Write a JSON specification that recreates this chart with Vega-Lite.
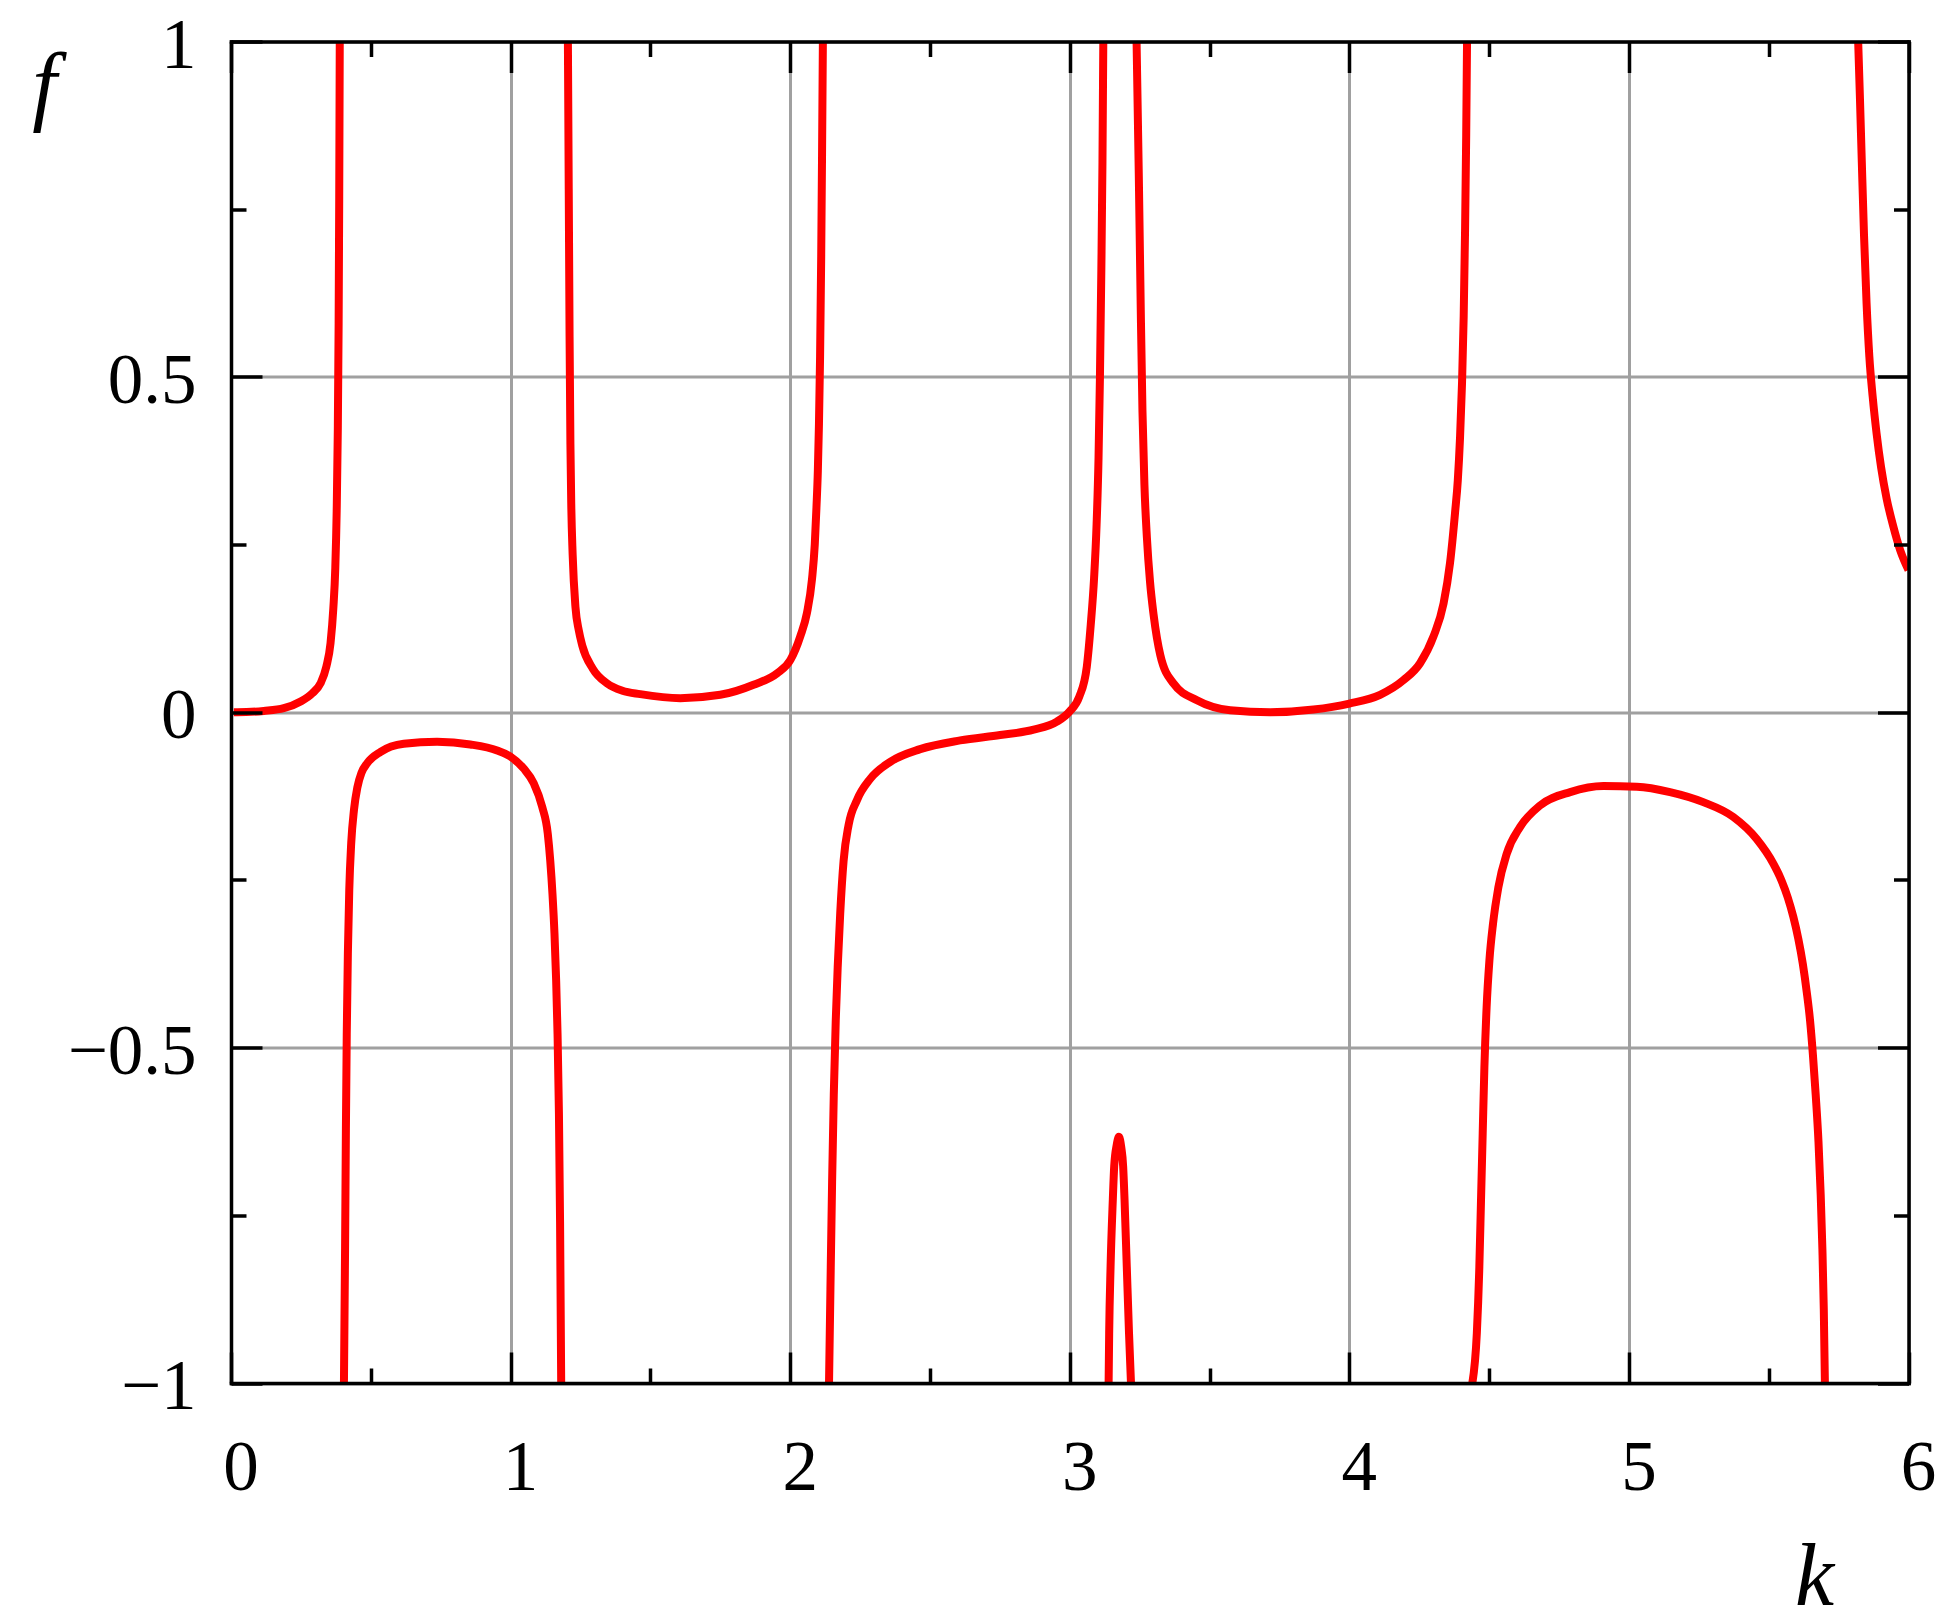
{
  "$schema": "https://vega.github.io/schema/vega-lite/v6.json",
  "width": 1677.5,
  "height": 1341.5,
  "autosize": {"type": "none"},
  "padding": {"left": 231, "top": 41.5, "right": 42.5, "bottom": 241},
  "background": "white",
  "config": {"view": {"stroke": null}},
  "data": {"values": [
    {"k": 0.01, "f": 0.0, "s": 1}, {"k": 0.022, "f": 0.0, "s": 1}, {"k": 0.117, "f": 0.002, "s": 1}, {"k": 0.189, "f": 0.006, "s": 1}, {"k": 0.249, "f": 0.016, "s": 1}, {"k": 0.29, "f": 0.028, "s": 1}, {"k": 0.32, "f": 0.043, "s": 1}, {"k": 0.341, "f": 0.068, "s": 1}, {"k": 0.356, "f": 0.103, "s": 1}, {"k": 0.366, "f": 0.155, "s": 1}, {"k": 0.373, "f": 0.215, "s": 1}, {"k": 0.378, "f": 0.3, "s": 1}, {"k": 0.382, "f": 0.42, "s": 1}, {"k": 0.385, "f": 0.58, "s": 1}, {"k": 0.387, "f": 0.76, "s": 1}, {"k": 0.389, "f": 1.0, "s": 1},

    {"k": 0.404, "f": -1.0, "s": 2}, {"k": 0.408, "f": -0.8, "s": 2}, {"k": 0.411, "f": -0.62, "s": 2}, {"k": 0.414, "f": -0.48, "s": 2}, {"k": 0.418, "f": -0.36, "s": 2}, {"k": 0.423, "f": -0.265, "s": 2}, {"k": 0.43, "f": -0.195, "s": 2}, {"k": 0.44, "f": -0.145, "s": 2}, {"k": 0.452, "f": -0.112, "s": 2}, {"k": 0.467, "f": -0.09, "s": 2}, {"k": 0.487, "f": -0.076, "s": 2}, {"k": 0.535, "f": -0.059, "s": 2}, {"k": 0.618, "f": -0.047, "s": 2}, {"k": 0.737, "f": -0.044, "s": 2}, {"k": 0.856, "f": -0.048, "s": 2}, {"k": 0.952, "f": -0.057, "s": 2}, {"k": 0.999, "f": -0.066, "s": 2}, {"k": 1.047, "f": -0.084, "s": 2}, {"k": 1.083, "f": -0.106, "s": 2}, {"k": 1.113, "f": -0.141, "s": 2}, {"k": 1.133, "f": -0.181, "s": 2}, {"k": 1.142, "f": -0.222, "s": 2}, {"k": 1.15, "f": -0.272, "s": 2}, {"k": 1.157, "f": -0.33, "s": 2}, {"k": 1.163, "f": -0.4, "s": 2}, {"k": 1.168, "f": -0.48, "s": 2}, {"k": 1.173, "f": -0.6, "s": 2}, {"k": 1.177, "f": -0.76, "s": 2}, {"k": 1.181, "f": -1.0, "s": 2},

    {"k": 1.205, "f": 1.0, "s": 3}, {"k": 1.208, "f": 0.78, "s": 3}, {"k": 1.211, "f": 0.56, "s": 3}, {"k": 1.214, "f": 0.4, "s": 3}, {"k": 1.217, "f": 0.31, "s": 3}, {"k": 1.222, "f": 0.235, "s": 3}, {"k": 1.232, "f": 0.157, "s": 3}, {"k": 1.244, "f": 0.122, "s": 3}, {"k": 1.256, "f": 0.1, "s": 3}, {"k": 1.294, "f": 0.065, "s": 3}, {"k": 1.345, "f": 0.043, "s": 3}, {"k": 1.4, "f": 0.032, "s": 3}, {"k": 1.464, "f": 0.027, "s": 3}, {"k": 1.607, "f": 0.021, "s": 3}, {"k": 1.75, "f": 0.026, "s": 3}, {"k": 1.869, "f": 0.041, "s": 3}, {"k": 1.953, "f": 0.058, "s": 3}, {"k": 2.001, "f": 0.078, "s": 3}, {"k": 2.036, "f": 0.113, "s": 3}, {"k": 2.06, "f": 0.148, "s": 3}, {"k": 2.078, "f": 0.198, "s": 3}, {"k": 2.088, "f": 0.25, "s": 3}, {"k": 2.094, "f": 0.305, "s": 3}, {"k": 2.099, "f": 0.36, "s": 3}, {"k": 2.103, "f": 0.43, "s": 3}, {"k": 2.107, "f": 0.53, "s": 3}, {"k": 2.111, "f": 0.68, "s": 3}, {"k": 2.114, "f": 0.83, "s": 3}, {"k": 2.117, "f": 1.0, "s": 3},

    {"k": 2.139, "f": -1.0, "s": 4}, {"k": 2.144, "f": -0.86, "s": 4}, {"k": 2.15, "f": -0.7, "s": 4}, {"k": 2.156, "f": -0.57, "s": 4}, {"k": 2.163, "f": -0.46, "s": 4}, {"k": 2.17, "f": -0.38, "s": 4}, {"k": 2.179, "f": -0.3, "s": 4}, {"k": 2.191, "f": -0.222, "s": 4}, {"k": 2.209, "f": -0.168, "s": 4}, {"k": 2.239, "f": -0.131, "s": 4}, {"k": 2.287, "f": -0.099, "s": 4}, {"k": 2.358, "f": -0.074, "s": 4}, {"k": 2.465, "f": -0.055, "s": 4}, {"k": 2.608, "f": -0.042, "s": 4}, {"k": 2.751, "f": -0.034, "s": 4}, {"k": 2.871, "f": -0.026, "s": 4}, {"k": 2.954, "f": -0.014, "s": 4}, {"k": 2.999, "f": 0.001, "s": 4}, {"k": 3.034, "f": 0.023, "s": 4}, {"k": 3.061, "f": 0.068, "s": 4}, {"k": 3.075, "f": 0.13, "s": 4}, {"k": 3.087, "f": 0.2, "s": 4}, {"k": 3.096, "f": 0.28, "s": 4}, {"k": 3.103, "f": 0.38, "s": 4}, {"k": 3.108, "f": 0.5, "s": 4}, {"k": 3.113, "f": 0.66, "s": 4}, {"k": 3.117, "f": 0.82, "s": 4}, {"k": 3.12, "f": 1.0, "s": 4},

    {"k": 3.139, "f": -1.0, "s": 5}, {"k": 3.141, "f": -0.926, "s": 5}, {"k": 3.146, "f": -0.827, "s": 5}, {"k": 3.154, "f": -0.727, "s": 5}, {"k": 3.159, "f": -0.677, "s": 5}, {"k": 3.168, "f": -0.645, "s": 5}, {"k": 3.176, "f": -0.633, "s": 5}, {"k": 3.184, "f": -0.648, "s": 5}, {"k": 3.191, "f": -0.677, "s": 5}, {"k": 3.196, "f": -0.727, "s": 5}, {"k": 3.204, "f": -0.827, "s": 5}, {"k": 3.212, "f": -0.926, "s": 5}, {"k": 3.219, "f": -1.0, "s": 5},

    {"k": 3.239, "f": 1.0, "s": 6}, {"k": 3.247, "f": 0.8, "s": 6}, {"k": 3.254, "f": 0.6, "s": 6}, {"k": 3.26, "f": 0.45, "s": 6}, {"k": 3.267, "f": 0.34, "s": 6}, {"k": 3.276, "f": 0.26, "s": 6}, {"k": 3.287, "f": 0.195, "s": 6}, {"k": 3.3, "f": 0.145, "s": 6}, {"k": 3.324, "f": 0.085, "s": 6}, {"k": 3.371, "f": 0.043, "s": 6}, {"k": 3.455, "f": 0.018, "s": 6}, {"k": 3.574, "f": 0.003, "s": 6}, {"k": 3.717, "f": 0.0, "s": 6}, {"k": 3.872, "f": 0.004, "s": 6}, {"k": 4.0, "f": 0.013, "s": 6}, {"k": 4.11, "f": 0.026, "s": 6}, {"k": 4.194, "f": 0.048, "s": 6}, {"k": 4.253, "f": 0.073, "s": 6}, {"k": 4.301, "f": 0.113, "s": 6}, {"k": 4.337, "f": 0.162, "s": 6}, {"k": 4.36, "f": 0.222, "s": 6}, {"k": 4.378, "f": 0.297, "s": 6}, {"k": 4.388, "f": 0.346, "s": 6}, {"k": 4.396, "f": 0.41, "s": 6}, {"k": 4.403, "f": 0.49, "s": 6}, {"k": 4.409, "f": 0.59, "s": 6}, {"k": 4.414, "f": 0.72, "s": 6}, {"k": 4.418, "f": 0.86, "s": 6}, {"k": 4.421, "f": 1.0, "s": 6},

    {"k": 4.44, "f": -1.0, "s": 7}, {"k": 4.456, "f": -0.926, "s": 7}, {"k": 4.465, "f": -0.827, "s": 7}, {"k": 4.471, "f": -0.727, "s": 7}, {"k": 4.477, "f": -0.628, "s": 7}, {"k": 4.483, "f": -0.53, "s": 7}, {"k": 4.491, "f": -0.44, "s": 7}, {"k": 4.501, "f": -0.37, "s": 7}, {"k": 4.514, "f": -0.315, "s": 7}, {"k": 4.533, "f": -0.261, "s": 7}, {"k": 4.563, "f": -0.211, "s": 7}, {"k": 4.611, "f": -0.171, "s": 7}, {"k": 4.682, "f": -0.139, "s": 7}, {"k": 4.79, "f": -0.119, "s": 7}, {"k": 4.909, "f": -0.11, "s": 7}, {"k": 5.028, "f": -0.111, "s": 7}, {"k": 5.147, "f": -0.119, "s": 7}, {"k": 5.266, "f": -0.134, "s": 7}, {"k": 5.373, "f": -0.156, "s": 7}, {"k": 5.457, "f": -0.189, "s": 7}, {"k": 5.517, "f": -0.226, "s": 7}, {"k": 5.545, "f": -0.25, "s": 7}, {"k": 5.568, "f": -0.276, "s": 7}, {"k": 5.588, "f": -0.305, "s": 7}, {"k": 5.606, "f": -0.338, "s": 7}, {"k": 5.622, "f": -0.375, "s": 7}, {"k": 5.636, "f": -0.417, "s": 7}, {"k": 5.648, "f": -0.46, "s": 7}, {"k": 5.658, "f": -0.51, "s": 7}, {"k": 5.668, "f": -0.57, "s": 7}, {"k": 5.678, "f": -0.64, "s": 7}, {"k": 5.686, "f": -0.72, "s": 7}, {"k": 5.692, "f": -0.8, "s": 7}, {"k": 5.697, "f": -0.89, "s": 7}, {"k": 5.701, "f": -1.0, "s": 7},

    {"k": 5.82, "f": 1.0, "s": 8}, {"k": 5.826, "f": 0.92, "s": 8}, {"k": 5.833, "f": 0.82, "s": 8}, {"k": 5.841, "f": 0.71, "s": 8}, {"k": 5.85, "f": 0.61, "s": 8}, {"k": 5.86, "f": 0.53, "s": 8}, {"k": 5.872, "f": 0.47, "s": 8}, {"k": 5.886, "f": 0.415, "s": 8}, {"k": 5.902, "f": 0.365, "s": 8}, {"k": 5.922, "f": 0.318, "s": 8}, {"k": 5.945, "f": 0.278, "s": 8}, {"k": 5.97, "f": 0.242, "s": 8}, {"k": 6.0, "f": 0.212, "s": 8}
  ]},
  "layer": [
    {
      "mark": {"type": "line", "color": "#ff0000", "strokeWidth": 8, "clip": true, "interpolate": "monotone"},
      "encoding": {
        "x": {"field": "k", "type": "quantitative", "scale": {"domain": [0, 6], "nice": false, "zero": false},
          "axis": {"orient": "bottom", "values": [0, 1, 2, 3, 4, 5, 6], "format": "d", "grid": true, "gridColor": "#a0a0a0", "gridWidth": 3, "ticks": false, "tickSize": 0, "domain": false,
            "labelFont": "Liberation Serif", "labelFontSize": 71, "labelColor": "black", "labelBaseline": "alphabetic", "labelAlign": "center", "labelPadding": 106, "labelOffset": 9.5, "labelFlush": false, "labelOverlap": false, "labelBound": false,
            "title": "k", "titleFont": "Liberation Serif", "titleFontStyle": "italic", "titleFontWeight": "normal", "titleFontSize": 88, "titleColor": "black", "titleX": 1583, "titleY": 221, "titleAlign": "center", "titleBaseline": "alphabetic", "titleAngle": 0, "zindex": 0}},
        "y": {"field": "f", "type": "quantitative", "scale": {"domain": [-1, 1], "nice": false, "zero": false},
          "axis": {"orient": "left", "values": [-1, -0.5, 0, 0.5, 1], "format": "~g", "grid": true, "gridColor": "#a0a0a0", "gridWidth": 3, "ticks": false, "tickSize": 0, "domain": false,
            "labelFont": "Liberation Serif", "labelFontSize": 71, "labelColor": "black", "labelBaseline": "alphabetic", "labelAlign": "right", "labelPadding": 35, "labelOffset": 25.5, "labelFlush": false, "labelOverlap": false, "labelBound": false,
            "title": "f", "titleFont": "Liberation Serif", "titleFontStyle": "italic", "titleFontWeight": "normal", "titleFontSize": 88, "titleColor": "black", "titleX": -187, "titleY": 71.5, "titleAlign": "center", "titleBaseline": "alphabetic", "titleAngle": 0, "zindex": 0}},
        "detail": {"field": "s", "type": "nominal"}
      }
    },
    {
      "mark": {"type": "line", "strokeOpacity": 0},
      "encoding": {
        "x": {"field": "k", "type": "quantitative", "scale": {"domain": [0, 6], "nice": false, "zero": false},
          "axis": {"orient": "top", "values": [0, 1, 2, 3, 4, 5, 6], "labels": false, "grid": false, "ticks": true, "tickSize": -31, "tickWidth": 3.5, "tickColor": "black", "domain": true, "domainColor": "black", "domainWidth": 3.5, "domainCap": "square", "title": null, "zindex": 1}},
        "y": {"field": "f", "type": "quantitative", "scale": {"domain": [-1, 1], "nice": false, "zero": false},
          "axis": {"orient": "right", "values": [-1, -0.5, 0, 0.5, 1], "labels": false, "grid": false, "ticks": true, "tickSize": -31, "tickWidth": 3.5, "tickColor": "black", "domain": true, "domainColor": "black", "domainWidth": 3.5, "domainCap": "square", "title": null, "zindex": 1}},
        "detail": {"field": "s", "type": "nominal"}
      }
    },
    {
      "mark": {"type": "line", "strokeOpacity": 0},
      "encoding": {
        "x": {"field": "k", "type": "quantitative", "scale": {"domain": [0, 6], "nice": false, "zero": false},
          "axis": {"orient": "bottom", "values": [0, 1, 2, 3, 4, 5, 6], "labels": false, "grid": false, "ticks": true, "tickSize": -31, "tickWidth": 3.5, "tickColor": "black", "domain": true, "domainColor": "black", "domainWidth": 3.5, "domainCap": "square", "title": null, "zindex": 1}},
        "y": {"field": "f", "type": "quantitative", "scale": {"domain": [-1, 1], "nice": false, "zero": false},
          "axis": {"orient": "left", "values": [-1, -0.5, 0, 0.5, 1], "labels": false, "grid": false, "ticks": true, "tickSize": -31, "tickWidth": 3.5, "tickColor": "black", "domain": true, "domainColor": "black", "domainWidth": 3.5, "domainCap": "square", "title": null, "zindex": 1}},
        "detail": {"field": "s", "type": "nominal"}
      }
    },
    {
      "mark": {"type": "line", "strokeOpacity": 0},
      "encoding": {
        "x": {"field": "k", "type": "quantitative", "scale": {"domain": [0, 6], "nice": false, "zero": false},
          "axis": {"orient": "top", "values": [0.5, 1.5, 2.5, 3.5, 4.5, 5.5], "labels": false, "grid": false, "ticks": true, "tickSize": -15, "tickWidth": 3.5, "tickColor": "black", "domain": false, "title": null, "zindex": 1}},
        "y": {"field": "f", "type": "quantitative", "scale": {"domain": [-1, 1], "nice": false, "zero": false},
          "axis": {"orient": "right", "values": [-0.75, -0.25, 0.25, 0.75], "labels": false, "grid": false, "ticks": true, "tickSize": -15, "tickWidth": 3.5, "tickColor": "black", "domain": false, "title": null, "zindex": 1}},
        "detail": {"field": "s", "type": "nominal"}
      }
    },
    {
      "mark": {"type": "line", "strokeOpacity": 0},
      "encoding": {
        "x": {"field": "k", "type": "quantitative", "scale": {"domain": [0, 6], "nice": false, "zero": false},
          "axis": {"orient": "bottom", "values": [0.5, 1.5, 2.5, 3.5, 4.5, 5.5], "labels": false, "grid": false, "ticks": true, "tickSize": -15, "tickWidth": 3.5, "tickColor": "black", "domain": false, "title": null, "zindex": 1}},
        "y": {"field": "f", "type": "quantitative", "scale": {"domain": [-1, 1], "nice": false, "zero": false},
          "axis": {"orient": "left", "values": [-0.75, -0.25, 0.25, 0.75], "labels": false, "grid": false, "ticks": true, "tickSize": -15, "tickWidth": 3.5, "tickColor": "black", "domain": false, "title": null, "zindex": 1}},
        "detail": {"field": "s", "type": "nominal"}
      }
    }
  ],
  "resolve": {"axis": {"x": "independent", "y": "independent"}}
}
